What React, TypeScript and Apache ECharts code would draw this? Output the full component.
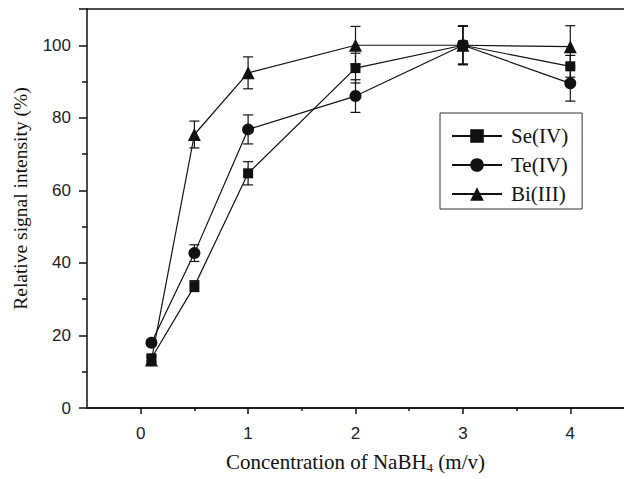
import React, { useEffect, useRef } from "react";
import * as echarts from "echarts";

const xValues = [0.1, 0.5, 1, 2, 3, 4];
const seValues = [13.7, 33.6, 64.7, 93.7, 100, 94.2];
const seErrors = [0.8, 1.5, 3.2, 4.1, 5.2, 3.0];
const teValues = [18.0, 42.7, 76.8, 86.0, 100, 89.5];
const teErrors = [0.8, 2.3, 4.0, 4.5, 5.2, 4.9];
const biValues = [13.2, 75.4, 92.4, 100, 100, 99.6];
const biErrors = [0.8, 3.7, 4.4, 5.2, 5.4, 5.8];
const xMajorTicks = [0, 1, 2, 3, 4];
const xMinorTicks = [0.5, 1.5, 2.5, 3.5];
const seriesNames = ["Se(IV)", "Te(IV)", "Bi(III)"];

const INK = "#111";

function pairs(vals: number[]) {
  return xValues.map((x, i) => [x, vals[i]]);
}
function errData(vals: number[], errs: number[]) {
  return xValues.map((x, i) => [x, vals[i] - errs[i], vals[i] + errs[i]]);
}

function renderErr(params: any, api: any) {
  const x = api.value(0);
  const lo = api.coord([x, api.value(1)]);
  const hi = api.coord([x, api.value(2)]);
  const w = 5;
  const st = { stroke: INK, lineWidth: 1.2 };
  return {
    type: "group",
    children: [
      { type: "line", shape: { x1: hi[0], y1: hi[1], x2: lo[0], y2: lo[1] }, style: st },
      { type: "line", shape: { x1: hi[0] - w, y1: hi[1], x2: hi[0] + w, y2: hi[1] }, style: st },
      { type: "line", shape: { x1: lo[0] - w, y1: lo[1], x2: lo[0] + w, y2: lo[1] }, style: st },
    ],
  };
}

export default function App() {
  const ref = useRef<HTMLDivElement>(null);
  useEffect(() => {
    if (!ref.current) return;
    const chart = echarts.init(ref.current, null, { renderer: "svg" });
    const sans = "'Liberation Sans', Arial, sans-serif";
    const serif = "'Liberation Serif', 'Times New Roman', serif";
    const symbols = ["rect", "circle", "triangle"];
    const sizes = [10, 12, 13];
    const vals = [seValues, teValues, biValues];
    const errs = [seErrors, teErrors, biErrors];

    const lineSeries = seriesNames.map((name, i) => ({
      name,
      type: "line",
      xAxisIndex: 0,
      data: pairs(vals[i]),
      symbol: symbols[i],
      symbolSize: sizes[i],
      showAllSymbol: true,
      lineStyle: { color: INK, width: 1.2 },
      itemStyle: { color: INK },
      z: 3,
    }));
    const errSeries = seriesNames.map((name, i) => ({
      name: name + " error",
      type: "custom",
      xAxisIndex: 0,
      data: errData(vals[i], errs[i]),
      renderItem: renderErr,
      z: 2,
      encode: { x: 0, y: [1, 2] },
    }));

    const commonX = { type: "value", min: -0.5, max: 4.5, splitLine: { show: false } };

    chart.setOption({
      animation: false,
      backgroundColor: "#fff",
      grid: { left: 87, right: -1, top: 9, bottom: 68, containLabel: false },
      legend: {
        data: seriesNames.map((name) => ({ name, itemStyle: { color: INK } })),
        orient: "vertical",
        left: 440,
        top: 113,
        itemWidth: 50,
        itemHeight: 17,
        itemGap: 7,
        padding: [12, 14, 4, 11],
        borderColor: "#333",
        borderWidth: 1,
        textStyle: { fontFamily: serif, fontSize: 21, color: INK, lineHeight: 22, padding: [0, 0, 0, 4] },
      },
      xAxis: [
        {
          ...commonX,
          position: "bottom",
          name: "Concentration of NaBH{sub|4} (m/v)",
          nameLocation: "middle",
          nameGap: 42,
          nameTextStyle: {
            fontFamily: serif,
            fontSize: 21,
            color: INK,
            rich: { sub: { fontFamily: serif, fontSize: 13, color: INK, padding: [11, 0, 0, 0] } },
          },
          axisLine: { show: true, onZero: false, lineStyle: { color: INK, width: 1.5 } },
          axisTick: { show: true, customValues: xMajorTicks, length: 6, lineStyle: { color: INK, width: 1.5 } },
          axisLabel: { customValues: xMajorTicks, margin: 17, fontFamily: sans, fontSize: 17, color: "#222" },
        },
        {
          ...commonX,
          position: "bottom",
          axisLine: { show: true, onZero: false, lineStyle: { color: INK, width: 1.5 } },
          axisTick: { show: true, customValues: xMinorTicks, length: 3, lineStyle: { color: INK, width: 1.5 } },
          axisLabel: { show: false },
        },
        {
          ...commonX,
          position: "top",
          axisLine: { show: true, onZero: false, lineStyle: { color: INK, width: 1.5 } },
          axisTick: { show: false },
          axisLabel: { show: false },
        },
      ],
      yAxis: {
        type: "value",
        min: 0,
        max: 110,
        interval: 20,
        name: "Relative signal intensity (%)",
        nameLocation: "middle",
        nameRotate: 90,
        nameGap: 57,
        nameTextStyle: { fontFamily: serif, fontSize: 19.5, color: INK, padding: [0, 0, 0, 20] },
        splitLine: { show: false },
        axisLine: { show: true, onZero: false, lineStyle: { color: INK, width: 1.5 } },
        axisTick: { show: true, length: 8, lineStyle: { color: INK, width: 1.5 } },
        minorTick: { show: true, splitNumber: 2, length: 5, lineStyle: { color: INK, width: 1.5 } },
        axisLabel: {
          margin: 16,
          fontFamily: sans,
          fontSize: 17,
          color: "#222",
          showMaxLabel: false,
          formatter: (v: number) => (v > 100 ? "" : String(v)),
        },
      },
      series: [...errSeries, ...lineSeries],
    });
    return () => chart.dispose();
  }, []);
  return (
    <div
      ref={ref}
      style={{ position: "fixed", left: 0, top: 0, width: 624, height: 479, background: "#fff" }}
    />
  );
}
